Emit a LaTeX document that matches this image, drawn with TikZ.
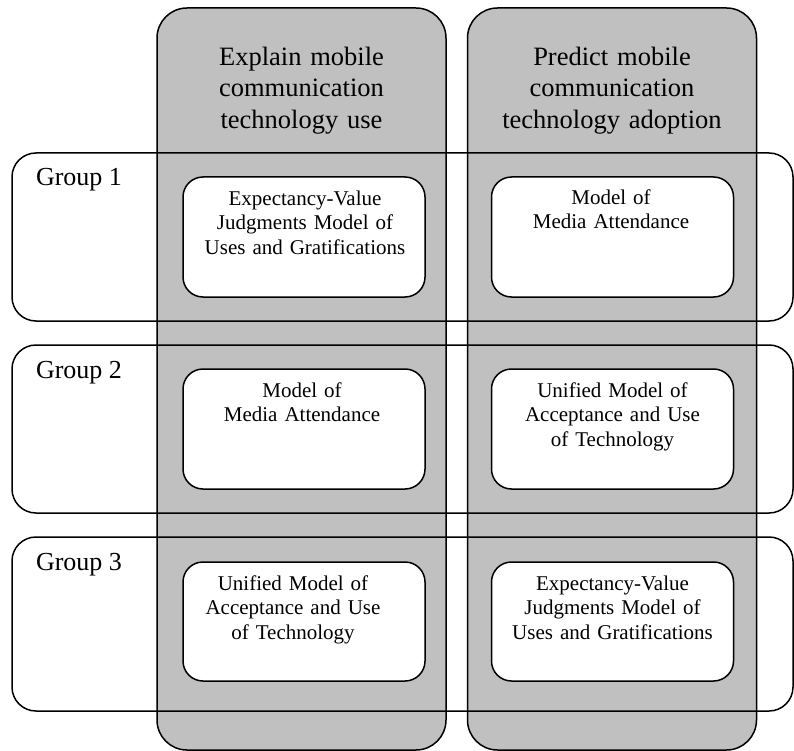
\documentclass[tikz,border=0pt]{standalone}
\usepackage{fontspec}
\setmainfont{Liberation Serif}
\definecolor{colgray}{RGB}{192,192,192}
\begin{document}
\begin{tikzpicture}[x=1pt,y=-1pt,
  every node/.style={inner sep=0pt, outer sep=0pt},
  grouprow/.style={rectangle, rounded corners=24pt, minimum width=781pt},
  column/.style={rectangle, draw, line width=1.5pt, fill=colgray,
    rounded corners=30pt, minimum width=289pt, minimum height=742pt},
  modelbox/.style={rectangle, draw, line width=1.5pt, fill=white,
    rounded corners=20pt, minimum width=242pt},
  headtext/.style={anchor=north, text width=280pt, align=center,
    font=\fontsize{26.5}{31.5}\selectfont},
  modeltext/.style={anchor=north, text width=236pt, align=center,
    font=\fontsize{21}{24.5}\selectfont},
  grouptext/.style={anchor=base west, font=\fontsize{26}{31}\selectfont}]
\useasboundingbox (0,0) rectangle (794,751);

% white backgrounds of the three group rows
\node[grouprow, fill=white, minimum height=168pt] (g1) at (402.5,237) {};
\node[grouprow, fill=white, minimum height=168pt] (g2) at (402.5,429) {};
\node[grouprow, fill=white, minimum height=174pt] (g3) at (402.5,624) {};

% the two gray columns
\node[column] (colL) at (301.5,379) {};
\node[column] (colR) at (612,379) {};

% group outlines drawn over the columns
\foreach \g in {g1,g2,g3}
  \draw[line width=1.5pt, rounded corners=24pt] (\g.north west) rectangle (\g.south east);

% column headings
\node[headtext] (hL) at (301.5,43) {\strut Explain mobile\\communication\\technology use};
\node[headtext] (hR) at (612,43) {\strut Predict mobile\\communication\\technology adoption};

% group labels
\node[grouptext] (l1) at (36,186) {Group 1};
\node[grouptext] (l2) at (36,378) {Group 2};
\node[grouptext] (l3) at (36,570) {Group 3};

% model boxes
\node[modelbox, minimum height=120pt] (b1L) at (304,237) {};
\node[modelbox, minimum height=120pt] (b1R) at (612.5,237) {};
\node[modelbox, minimum height=120pt] (b2L) at (304,429) {};
\node[modelbox, minimum height=120pt] (b2R) at (612.5,429) {};
\node[modelbox, minimum height=119pt] (b3L) at (304,621.5) {};
\node[modelbox, minimum height=119pt] (b3R) at (612.5,621.5) {};

% model names
\node[modeltext] (t1L) at (305,188) {\strut Expectancy-Value\\Judgments Model of\\Uses and Gratifications};
\node[modeltext] (t1R) at (611,187) {\strut Model of\\Media Attendance};
\node[modeltext] (t2L) at (302,380) {\strut Model of\\Media Attendance};
\node[modeltext] (t2R) at (612.5,380) {\strut Unified Model of\\Acceptance and Use\\of Technology};
\node[modeltext] (t3L) at (293,573) {\strut Unified Model of\\Acceptance and Use\\of Technology};
\node[modeltext] (t3R) at (612.5,573) {\strut Expectancy-Value\\Judgments Model of\\Uses and Gratifications};
\end{tikzpicture}
\end{document}
